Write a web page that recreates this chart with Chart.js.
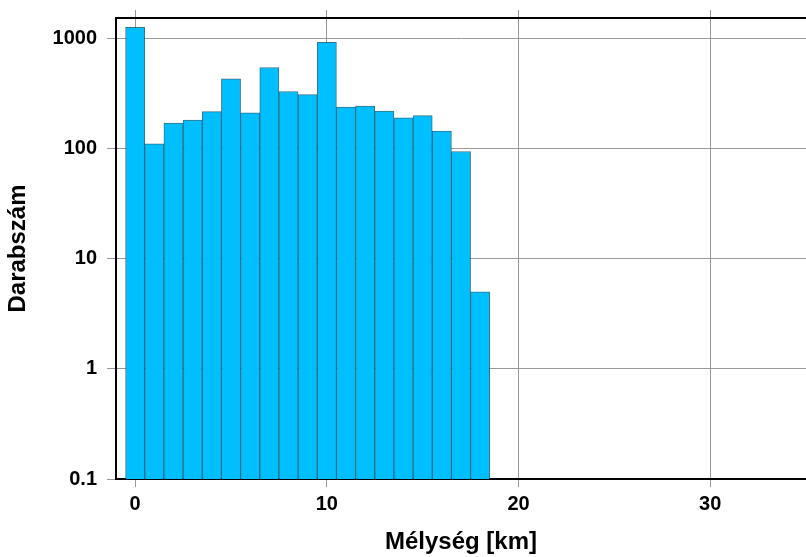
<!DOCTYPE html>
<html>
<head>
<meta charset="utf-8">
<script src="https://cdn.jsdelivr.net/npm/chart.js@4/dist/chart.umd.min.js"></script>
<style>
  body { margin: 0; background: #fff; }
  canvas { display: block; }
</style>
</head>
<body>
<canvas id="hist" width="806" height="557"></canvas>
<script>
// depth bins (km, bin centres) and event counts
const depths = [0, 1, 2, 3, 4, 5, 6, 7, 8, 9, 10, 11, 12, 13, 14, 15, 16, 17, 18];
const counts = [1260, 110, 170, 181, 216, 428, 211, 544, 329, 308, 919, 238, 243, 219, 190, 199, 144, 94, 5];
const xTicks = [0, 10, 20, 30];
const yTicks = [0.1, 1, 10, 100, 1000];

const font = 'Liberation Sans, Arial, Helvetica, sans-serif';

const ctx = document.getElementById('hist').getContext('2d');

const chart = new Chart(ctx, {
    type: 'bar',
    data: {
        datasets: [{
            label: 'Darabszám',
            data: depths.map((d, i) => ({ x: d, y: counts[i] })),
            backgroundColor: '#00bfff',
            borderColor: 'rgba(0, 80, 110, 0.8)',
            borderWidth: 1,
            barPercentage: 1,
            categoryPercentage: 1
        }]
    },
    options: {
        responsive: false,
        animation: false,
        layout: { padding: 0 },
        plugins: {
            legend: { display: false },
            tooltip: { enabled: false }
        },
        scales: {
            x: {
                type: 'linear',
                position: 'bottom',
                min: -1,
                max: 35,
                offset: false,
                afterBuildTicks: s => { s.ticks = xTicks.map(v => ({ value: v })); },
                afterFit: s => { s.height = 78; s.paddingLeft = 0; s.paddingRight = 0; },
                grid: { color: '#999', lineWidth: 1, tickLength: 8, offset: false },
                border: { color: '#000', width: 2 },
                ticks: {
                    color: '#000',
                    padding: 5,
                    maxRotation: 0,
                    font: { family: font, size: 20, weight: 'bold' }
                },
                title: {
                    display: true,
                    text: 'Mélység [km]',
                    color: '#000',
                    padding: 0,
                    font: { family: font, size: 24, weight: 'bold' }
                }
            },
            x2: {
                type: 'linear',
                position: 'top',
                min: -1,
                max: 35,
                offset: false,
                afterBuildTicks: s => { s.ticks = xTicks.map(v => ({ value: v })); },
                afterFit: s => { s.height = 18; s.paddingLeft = 0; s.paddingRight = 0; },
                grid: { color: '#999', tickLength: 8, drawOnChartArea: false, offset: false },
                border: { color: '#000', width: 2 },
                ticks: { display: false }
            },
            y: {
                type: 'logarithmic',
                min: 0.1,
                max: 1530,
                afterBuildTicks: s => { s.ticks = yTicks.map(v => ({ value: v })); },
                afterFit: s => { s.width = 116; s.paddingTop = 0; s.paddingBottom = 0; },
                grid: { color: '#999', lineWidth: 1, tickLength: 9 },
                border: { color: '#000', width: 2 },
                ticks: {
                    color: '#000',
                    padding: 10,
                    font: { family: font, size: 20, weight: 'bold' },
                    callback: v => String(v)
                },
                title: {
                    display: true,
                    text: 'Darabszám',
                    color: '#000',
                    padding: { top: 4, bottom: 0 },
                    font: { family: font, size: 24, weight: 'bold' }
                }
            }
        }
    }
});
</script>
</body>
</html>
